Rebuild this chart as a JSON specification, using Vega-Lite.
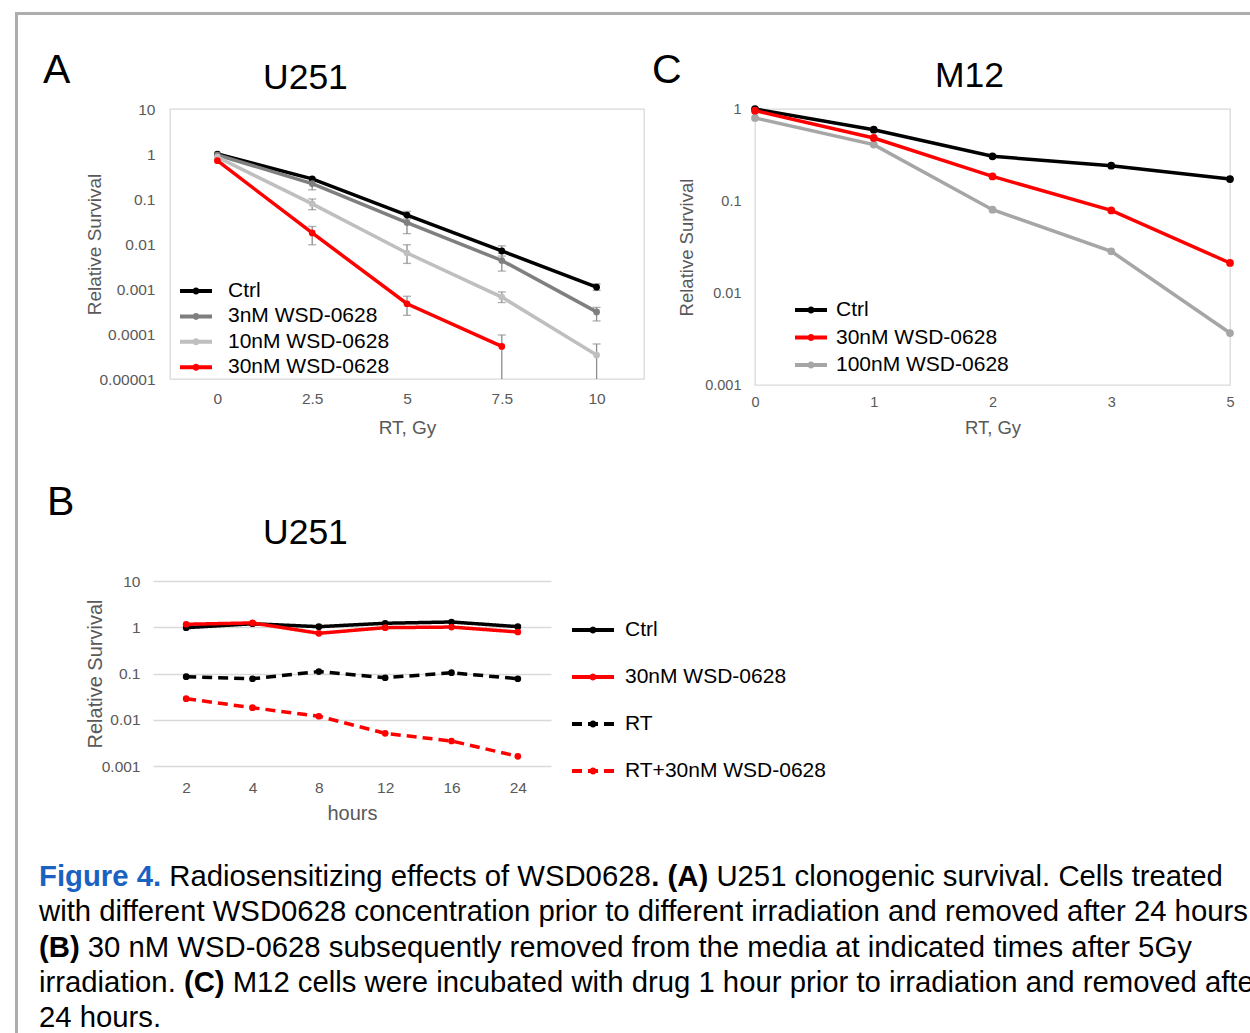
{
  "$schema": "https://vega.github.io/schema/vega-lite/v6.json",
  "padding": {"left": 15, "top": 12, "right": 0, "bottom": 0},
  "spacing": 0,
  "resolve": {"scale": {"x": "independent", "y": "independent", "color": "independent", "strokeDash": "independent"}, "legend": {"color": "independent", "strokeDash": "independent"}},
  "config": {
    "font": "Liberation Sans",
    "view": {"stroke": null},
    "axis": {"domain": false, "ticks": false, "grid": false, "labelColor": "#595959", "titleColor": "#595959", "titleFontWeight": "normal", "labelFont": "Liberation Sans", "titleFont": "Liberation Sans"},
    "title": {"font": "Liberation Sans", "fontWeight": "normal", "color": "#000000", "baseline": "top"},
    "legend": {"labelFont": "Liberation Sans", "labelColor": "#000000", "padding": 0, "labelLimit": 0}
  },
  "datasets": {
    "A": [
      {"s": "Ctrl", "gy": 0, "v": 1.0},
      {"s": "Ctrl", "gy": 2.5, "v": 0.28},
      {"s": "Ctrl", "gy": 5, "v": 0.044, "lo": 0.036, "hi": 0.053},
      {"s": "Ctrl", "gy": 7.5, "v": 0.007, "lo": 0.0054, "hi": 0.0091},
      {"s": "Ctrl", "gy": 10, "v": 0.0011, "lo": 0.00093, "hi": 0.00131},
      {"s": "3nM WSD-0628", "gy": 0, "v": 0.95},
      {"s": "3nM WSD-0628", "gy": 2.5, "v": 0.22, "lo": 0.16, "hi": 0.3},
      {"s": "3nM WSD-0628", "gy": 5, "v": 0.03, "lo": 0.017, "hi": 0.042},
      {"s": "3nM WSD-0628", "gy": 7.5, "v": 0.0043, "lo": 0.0025, "hi": 0.0062},
      {"s": "3nM WSD-0628", "gy": 10, "v": 0.00031, "lo": 0.000195, "hi": 0.00039},
      {"s": "10nM WSD-0628", "gy": 0, "v": 0.85},
      {"s": "10nM WSD-0628", "gy": 2.5, "v": 0.078, "lo": 0.058, "hi": 0.1},
      {"s": "10nM WSD-0628", "gy": 5, "v": 0.0063, "lo": 0.0037, "hi": 0.0096},
      {"s": "10nM WSD-0628", "gy": 7.5, "v": 0.00066, "lo": 0.0005, "hi": 0.00086},
      {"s": "10nM WSD-0628", "gy": 10, "v": 0.000034, "lo": 0.00001, "hi": 0.00006},
      {"s": "30nM WSD-0628", "gy": 0, "v": 0.71},
      {"s": "30nM WSD-0628", "gy": 2.5, "v": 0.0176, "lo": 0.0096, "hi": 0.0245},
      {"s": "30nM WSD-0628", "gy": 5, "v": 0.00047, "lo": 0.00026, "hi": 0.00069},
      {"s": "30nM WSD-0628", "gy": 7.5, "v": 0.000053, "lo": 0.00001, "hi": 0.000095}
    ],
    "C": [
      {"s": "Ctrl", "gy": "0", "v": 1.0},
      {"s": "Ctrl", "gy": "1", "v": 0.596},
      {"s": "Ctrl", "gy": "2", "v": 0.306},
      {"s": "Ctrl", "gy": "3", "v": 0.242},
      {"s": "Ctrl", "gy": "5", "v": 0.173},
      {"s": "100nM WSD-0628", "gy": "0", "v": 0.8},
      {"s": "100nM WSD-0628", "gy": "1", "v": 0.41},
      {"s": "100nM WSD-0628", "gy": "2", "v": 0.0805},
      {"s": "100nM WSD-0628", "gy": "3", "v": 0.0284},
      {"s": "100nM WSD-0628", "gy": "5", "v": 0.00367},
      {"s": "30nM WSD-0628", "gy": "0", "v": 0.96},
      {"s": "30nM WSD-0628", "gy": "1", "v": 0.484},
      {"s": "30nM WSD-0628", "gy": "2", "v": 0.185},
      {"s": "30nM WSD-0628", "gy": "3", "v": 0.079},
      {"s": "30nM WSD-0628", "gy": "5", "v": 0.0212}
    ],
    "B": [
      {"s": "Ctrl", "h": 2, "v": 0.98},
      {"s": "Ctrl", "h": 4, "v": 1.19},
      {"s": "Ctrl", "h": 8, "v": 1.03},
      {"s": "Ctrl", "h": 12, "v": 1.22},
      {"s": "Ctrl", "h": 16, "v": 1.3},
      {"s": "Ctrl", "h": 24, "v": 1.03},
      {"s": "30nM WSD-0628", "h": 2, "v": 1.16},
      {"s": "30nM WSD-0628", "h": 4, "v": 1.24},
      {"s": "30nM WSD-0628", "h": 8, "v": 0.74},
      {"s": "30nM WSD-0628", "h": 12, "v": 0.98},
      {"s": "30nM WSD-0628", "h": 16, "v": 1.01},
      {"s": "30nM WSD-0628", "h": 24, "v": 0.79},
      {"s": "RT", "h": 2, "v": 0.0855},
      {"s": "RT", "h": 4, "v": 0.077},
      {"s": "RT", "h": 8, "v": 0.11},
      {"s": "RT", "h": 12, "v": 0.081},
      {"s": "RT", "h": 16, "v": 0.104},
      {"s": "RT", "h": 24, "v": 0.077},
      {"s": "RT+30nM WSD-0628", "h": 2, "v": 0.0286},
      {"s": "RT+30nM WSD-0628", "h": 4, "v": 0.0182},
      {"s": "RT+30nM WSD-0628", "h": 8, "v": 0.0119},
      {"s": "RT+30nM WSD-0628", "h": 12, "v": 0.00508},
      {"s": "RT+30nM WSD-0628", "h": 16, "v": 0.00347},
      {"s": "RT+30nM WSD-0628", "h": 24, "v": 0.00162}
    ],
    "caption": [
      {"line": 1, "part": "fig", "t": "Figure 4."},
      {"line": 1, "part": "l1b", "t": "Radiosensitizing effects of WSD0628"},
      {"line": 1, "part": "l1c", "t": ". (A)"},
      {"line": 1, "part": "l1d", "t": "U251 clonogenic survival. Cells treated"},
      {"line": 2, "part": "plain", "t": "with different WSD0628 concentration prior to different irradiation and removed after 24 hours."},
      {"line": 3, "part": "l3a", "t": "(B)"},
      {"line": 3, "part": "l3b", "t": "30 nM WSD-0628 subsequently removed from the media at indicated times after 5Gy"},
      {"line": 4, "part": "plain", "t": "irradiation."},
      {"line": 4, "part": "l4b", "t": "(C)"},
      {"line": 4, "part": "l4c", "t": "M12 cells were incubated with drug 1 hour prior to irradiation and removed after"},
      {"line": 5, "part": "plain", "t": "24 hours."}
    ]
  },
  "hconcat": [
    {
      "width": 3, "height": 1021,
      "view": {"fill": "#adadad", "stroke": null},
      "data": {"values": []},
      "mark": {"type": "text", "text": ""}
    },
    {
      "spacing": 35,
      "resolve": {"scale": {"x": "independent", "y": "independent", "color": "independent", "strokeDash": "independent"}, "legend": {"color": "independent", "strokeDash": "independent"}},
      "vconcat": [
        {
          "width": 1232, "height": 3,
          "view": {"fill": "#adadad", "stroke": null},
          "data": {"values": []},
          "mark": {"type": "text", "text": ""}
        },
        {
          "bounds": "flush",
          "spacing": 0,
          "resolve": {"scale": {"x": "independent", "y": "independent", "color": "independent", "strokeDash": "independent"}, "legend": {"color": "independent", "strokeDash": "independent"}},
          "hconcat": [
            {
              "width": 152, "height": 338,
              "title": {"text": "A", "anchor": "start", "dx": 25, "fontSize": 41, "offset": 17},
              "data": {"values": []},
              "mark": {"type": "text", "text": ""}
            },
            {
              "width": 474, "height": 270,
              "view": {"stroke": "#d9d9d9", "strokeWidth": 1.3},
              "title": {"text": "U251", "anchor": "start", "frame": "group", "dx": 93, "fontSize": 35.5, "offset": 6},
              "data": {"name": "A"},
              "layer": [
                {
                  "transform": [{"filter": "isValid(datum.hi)"}],
                  "mark": {"type": "rule", "color": "#8c8c8c", "strokeWidth": 1.3},
                  "encoding": {
                    "x": {"field": "gy", "type": "quantitative", "scale": {"domain": [-1.25, 11.25], "nice": false, "zero": false},
                      "axis": {"values": [0, 2.5, 5, 7.5, 10], "labelExpr": "'' + datum.value", "title": "RT, Gy", "labelFontSize": 15.5, "titleFontSize": 19, "labelPadding": 12, "titlePadding": 12}},
                    "y": {"field": "lo", "type": "quantitative", "scale": {"type": "log", "domain": [0.00001, 10], "nice": false},
                      "axis": {"values": [10, 1, 0.1, 0.01, 0.001, 0.0001, 0.00001], "format": "~f", "title": "Relative Survival", "labelFontSize": 15.5, "titleFontSize": 19, "labelPadding": 15, "titlePadding": -6}},
                    "y2": {"field": "hi"}
                  }
                },
                {
                  "transform": [{"filter": "isValid(datum.hi)"}],
                  "mark": {"type": "tick", "orient": "horizontal", "color": "#8c8c8c", "size": 8, "thickness": 1.3},
                  "encoding": {
                    "x": {"field": "gy", "type": "quantitative", "scale": {"domain": [-1.25, 11.25], "nice": false, "zero": false},
                      "axis": {"values": [0, 2.5, 5, 7.5, 10], "labelExpr": "'' + datum.value", "title": "RT, Gy", "labelFontSize": 15.5, "titleFontSize": 19, "labelPadding": 12, "titlePadding": 12}},
                    "y": {"field": "hi", "type": "quantitative", "scale": {"type": "log", "domain": [0.00001, 10], "nice": false},
                      "axis": {"values": [10, 1, 0.1, 0.01, 0.001, 0.0001, 0.00001], "format": "~f", "title": "Relative Survival", "labelFontSize": 15.5, "titleFontSize": 19, "labelPadding": 15, "titlePadding": -6}}
                  }
                },
                {
                  "transform": [{"filter": "isValid(datum.lo) && datum.lo > 0.00001"}],
                  "mark": {"type": "tick", "orient": "horizontal", "color": "#8c8c8c", "size": 8, "thickness": 1.3},
                  "encoding": {
                    "x": {"field": "gy", "type": "quantitative", "scale": {"domain": [-1.25, 11.25], "nice": false, "zero": false},
                      "axis": {"values": [0, 2.5, 5, 7.5, 10], "labelExpr": "'' + datum.value", "title": "RT, Gy", "labelFontSize": 15.5, "titleFontSize": 19, "labelPadding": 12, "titlePadding": 12}},
                    "y": {"field": "lo", "type": "quantitative", "scale": {"type": "log", "domain": [0.00001, 10], "nice": false},
                      "axis": {"values": [10, 1, 0.1, 0.01, 0.001, 0.0001, 0.00001], "format": "~f", "title": "Relative Survival", "labelFontSize": 15.5, "titleFontSize": 19, "labelPadding": 15, "titlePadding": -6}}
                  }
                },
                {
                  "mark": {"type": "line", "strokeWidth": 3.5, "point": {"filled": true, "size": 45}},
                  "encoding": {
                    "x": {"field": "gy", "type": "quantitative", "scale": {"domain": [-1.25, 11.25], "nice": false, "zero": false},
                      "axis": {"values": [0, 2.5, 5, 7.5, 10], "labelExpr": "'' + datum.value", "title": "RT, Gy", "labelFontSize": 15.5, "titleFontSize": 19, "labelPadding": 12, "titlePadding": 12}},
                    "y": {"field": "v", "type": "quantitative", "scale": {"type": "log", "domain": [0.00001, 10], "nice": false},
                      "axis": {"values": [10, 1, 0.1, 0.01, 0.001, 0.0001, 0.00001], "format": "~f", "title": "Relative Survival", "labelFontSize": 15.5, "titleFontSize": 19, "labelPadding": 15, "titlePadding": -6}},
                    "color": {"field": "s", "type": "nominal",
                      "scale": {"domain": ["Ctrl", "3nM WSD-0628", "10nM WSD-0628", "30nM WSD-0628"], "range": ["#000000", "#7f7f7f", "#bfbfbf", "#ff0000"]},
                      "legend": {"title": null, "orient": "none", "legendX": 14, "legendY": 170, "symbolType": "M-1.6,0H1.6M0.15,0A0.15,0.15,0,1,1,-0.15,0A0.15,0.15,0,1,1,0.15,0", "symbolSize": 400, "symbolStrokeWidth": 4, "labelFontSize": 21, "labelOffset": 20, "rowPadding": 3.4}}
                  }
                }
              ]
            },
            {
              "width": 111, "height": 1,
              "title": {"text": "C", "anchor": "start", "dx": 8, "fontSize": 41, "offset": 17},
              "data": {"values": []},
              "mark": {"type": "text", "text": ""}
            },
            {
              "width": 475, "height": 276,
              "view": {"stroke": "#d9d9d9", "strokeWidth": 1.3},
              "title": {"text": "M12", "anchor": "start", "frame": "group", "dx": 180, "fontSize": 35.5, "offset": 7},
              "data": {"name": "C"},
              "mark": {"type": "line", "strokeWidth": 3.5, "point": {"filled": true, "size": 60}},
              "encoding": {
                "x": {"field": "gy", "type": "ordinal", "scale": {"type": "point", "padding": 0},
                  "axis": {"labelAngle": 0, "title": "RT, Gy", "labelFontSize": 14.5, "titleFontSize": 18.5, "labelPadding": 10, "titlePadding": 10}},
                "y": {"field": "v", "type": "quantitative", "scale": {"type": "log", "domain": [0.001, 1], "nice": false},
                  "axis": {"values": [1, 0.1, 0.01, 0.001], "format": "~f", "title": "Relative Survival", "labelFontSize": 14.5, "titleFontSize": 18.5, "labelPadding": 14, "titlePadding": 8}},
                "color": {"field": "s", "type": "nominal",
                  "scale": {"domain": ["Ctrl", "30nM WSD-0628", "100nM WSD-0628"], "range": ["#000000", "#ff0000", "#a6a6a6"]},
                  "legend": {"title": null, "orient": "none", "legendX": 44, "legendY": 189, "symbolType": "M-1.6,0H1.6M0.15,0A0.15,0.15,0,1,1,-0.15,0A0.15,0.15,0,1,1,0.15,0", "symbolSize": 400, "symbolStrokeWidth": 4, "labelFontSize": 21, "labelOffset": 13, "rowPadding": 5.5}}
              }
            }
          ]
        },
        {
          "bounds": "flush",
          "spacing": 0,
          "resolve": {"scale": {"x": "independent", "y": "independent", "color": "independent", "strokeDash": "independent"}, "legend": {"color": "independent", "strokeDash": "independent"}},
          "hconcat": [
            {
              "width": 135, "height": 247,
              "title": {"text": "B", "anchor": "start", "dx": 29, "fontSize": 41, "offset": 57},
              "data": {"values": []},
              "mark": {"type": "text", "text": ""}
            },
            {
              "width": 398, "height": 185,
              "title": {"text": "U251", "anchor": "start", "frame": "group", "dx": 110, "fontSize": 35.5, "offset": 23},
              "data": {"name": "B"},
              "mark": {"type": "line", "strokeWidth": 3.5, "point": {"filled": true, "size": 45}},
              "encoding": {
                "x": {"field": "h", "type": "ordinal", "sort": [2, 4, 8, 12, 16, 24], "scale": {"type": "point", "padding": 0.5},
                  "axis": {"labelAngle": 0, "title": "hours", "labelFontSize": 15.5, "titleFontSize": 20, "labelPadding": 14, "titlePadding": 8}},
                "y": {"field": "v", "type": "quantitative", "scale": {"type": "log", "domain": [0.001, 10], "nice": false},
                  "axis": {"values": [10, 1, 0.1, 0.01, 0.001], "format": "~f", "title": "Relative Survival", "labelFontSize": 15.5, "titleFontSize": 20, "labelPadding": 13, "titlePadding": -4, "grid": true, "gridColor": "#d9d9d9", "gridWidth": 1.3}},
                "color": {"field": "s", "type": "nominal",
                  "scale": {"domain": ["Ctrl", "30nM WSD-0628", "RT", "RT+30nM WSD-0628"], "range": ["#000000", "#ff0000", "#000000", "#ff0000"]},
                  "legend": {"title": null, "orient": "none", "legendX": 428, "legendY": 37, "symbolType": "M-2.1,0H2.1M0.15,0A0.15,0.15,0,1,1,-0.15,0A0.15,0.15,0,1,1,0.15,0", "symbolSize": 400, "symbolStrokeWidth": 4, "labelFontSize": 21, "labelOffset": 20, "rowPadding": 25}},
                "strokeDash": {"field": "s", "type": "nominal",
                  "scale": {"domain": ["Ctrl", "30nM WSD-0628", "RT", "RT+30nM WSD-0628"], "range": [[1, 0], [1, 0], [10, 6], [10, 6]]},
                  "legend": {"title": null, "orient": "none", "legendX": 428, "legendY": 37, "symbolType": "M-2.1,0H2.1M0.15,0A0.15,0.15,0,1,1,-0.15,0A0.15,0.15,0,1,1,0.15,0", "symbolSize": 400, "symbolStrokeWidth": 4, "labelFontSize": 21, "labelOffset": 20, "rowPadding": 25}}
              }
            }
          ]
        },
        {
          "width": 42, "height": 141,
          "data": {"name": "caption"},
          "encoding": {
            "y": {"field": "line", "type": "ordinal", "scale": {"type": "point", "padding": 0}, "axis": null},
            "text": {"field": "t"}
          },
          "layer": [
            {"transform": [{"filter": "datum.part == 'fig'"}], "mark": {"type": "text", "align": "left", "baseline": "alphabetic", "fontSize": 29.3, "fontWeight": "bold", "color": "#1a62c2"}},
            {"transform": [{"filter": "datum.part == 'l1b'"}], "mark": {"type": "text", "align": "left", "baseline": "alphabetic", "fontSize": 29.3, "dx": 130.3, "color": "#000000"}},
            {"transform": [{"filter": "datum.part == 'l1c'"}], "mark": {"type": "text", "align": "left", "baseline": "alphabetic", "fontSize": 29.3, "fontWeight": "bold", "dx": 612.3, "color": "#000000"}},
            {"transform": [{"filter": "datum.part == 'l1d'"}], "mark": {"type": "text", "align": "left", "baseline": "alphabetic", "fontSize": 29.3, "dx": 677.4, "color": "#000000"}},
            {"transform": [{"filter": "datum.part == 'plain'"}], "mark": {"type": "text", "align": "left", "baseline": "alphabetic", "fontSize": 29.3, "color": "#000000"}},
            {"transform": [{"filter": "datum.part == 'l3a'"}], "mark": {"type": "text", "align": "left", "baseline": "alphabetic", "fontSize": 29.3, "fontWeight": "bold", "color": "#000000"}},
            {"transform": [{"filter": "datum.part == 'l3b'"}], "mark": {"type": "text", "align": "left", "baseline": "alphabetic", "fontSize": 29.3, "dx": 48.8, "color": "#000000"}},
            {"transform": [{"filter": "datum.part == 'l4b'"}], "mark": {"type": "text", "align": "left", "baseline": "alphabetic", "fontSize": 29.3, "fontWeight": "bold", "dx": 144.9, "color": "#000000"}},
            {"transform": [{"filter": "datum.part == 'l4c'"}], "mark": {"type": "text", "align": "left", "baseline": "alphabetic", "fontSize": 29.3, "dx": 193.7, "color": "#000000"}}
          ]
        }
      ]
    }
  ]
}
